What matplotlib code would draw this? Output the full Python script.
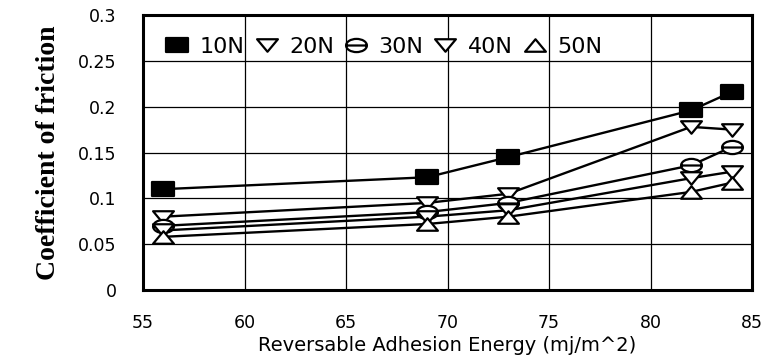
import matplotlib
matplotlib.use("Agg")
import matplotlib.pyplot as plt
from matplotlib.path import Path

# reversible adhesion energy (mj/m^2)
energy = [56, 69, 73, 82, 84]

# coefficient of friction per load
cof_10n = [0.110, 0.123, 0.145, 0.196, 0.216]
cof_20n = [0.080, 0.095, 0.105, 0.178, 0.175]
cof_30n = [0.070, 0.085, 0.095, 0.136, 0.156]
cof_40n = [0.065, 0.080, 0.087, 0.122, 0.129]
cof_50n = [0.058, 0.072, 0.080, 0.107, 0.117]

loads = ["10N", "20N", "30N", "40N", "50N"]

# wide markers like the scanned original
RECT = Path([(-1.5, -1), (1.5, -1), (1.5, 1), (-1.5, 1), (-1.5, -1)],
            [Path.MOVETO, Path.LINETO, Path.LINETO, Path.LINETO, Path.CLOSEPOLY])
TRI_DOWN = Path([(-1.5, 0.9), (1.5, 0.9), (0, -0.9), (-1.5, 0.9)],
                [Path.MOVETO, Path.LINETO, Path.LINETO, Path.CLOSEPOLY])
TRI_UP = Path([(-1.5, -0.9), (1.5, -0.9), (0, 0.9), (-1.5, -0.9)],
              [Path.MOVETO, Path.LINETO, Path.LINETO, Path.CLOSEPOLY])
_circ = Path.unit_circle()
OVAL = Path.make_compound_path(
    Path(_circ.vertices * [1.5, 0.95], _circ.codes),
    Path([(-1.5, 0), (1.5, 0)], [Path.MOVETO, Path.LINETO]))

plt.rcParams["font.family"] = ["DejaVu Sans"]

fig = plt.figure(figsize=(7.65, 3.58), dpi=100)
ax = fig.add_axes([0.187, 0.19, 0.796, 0.768])

series = [cof_10n, cof_20n, cof_30n, cof_40n, cof_50n]
markers = [RECT, TRI_DOWN, OVAL, TRI_DOWN, TRI_UP]
faces = ["black", "white", "white", "white", "white"]
sizes = [16, 15, 15, 15, 15]
for vals, name, m, fc, ms in zip(series, loads, markers, faces, sizes):
    ax.plot(energy, vals, color="black", linewidth=1.7, label=name,
            marker=m, markersize=ms, markerfacecolor=fc,
            markeredgecolor="black", markeredgewidth=1.6)

ax.set_xlim(55, 85)
ax.set_ylim(0, 0.3)
ax.set_xticks([55, 60, 65, 70, 75, 80, 85])
ax.set_yticks([0, 0.05, 0.1, 0.15, 0.2, 0.25, 0.3])
ax.set_yticklabels(["0", "0.05", "0.1", "0.15", "0.2", "0.25", "0.3"])
ax.tick_params(length=0, labelsize=12.5)
ax.tick_params(axis="x", pad=17)
ax.tick_params(axis="y", pad=19)
ax.grid(True, color="black", linewidth=0.9)
ax.set_axisbelow(True)
for s in ax.spines.values():
    s.set_linewidth(2.2)

ax.set_xlabel("Reversable Adhesion Energy (mj/m^2)", fontsize=14, labelpad=3)
ax.set_ylabel("Coefficient of friction", family=["Liberation Serif", "DejaVu Serif"],
              fontweight="bold", fontsize=20, labelpad=12)

leg = ax.legend(loc="center left", bbox_to_anchor=(0.02, 0.883), ncol=5, frameon=False,
                fontsize=16, handlelength=1.0, handletextpad=0.5, columnspacing=0.5,
                borderpad=0.0)
for h in leg.legend_handles:
    h.set_linestyle("none")

fig.savefig("out.png", dpi=100)
